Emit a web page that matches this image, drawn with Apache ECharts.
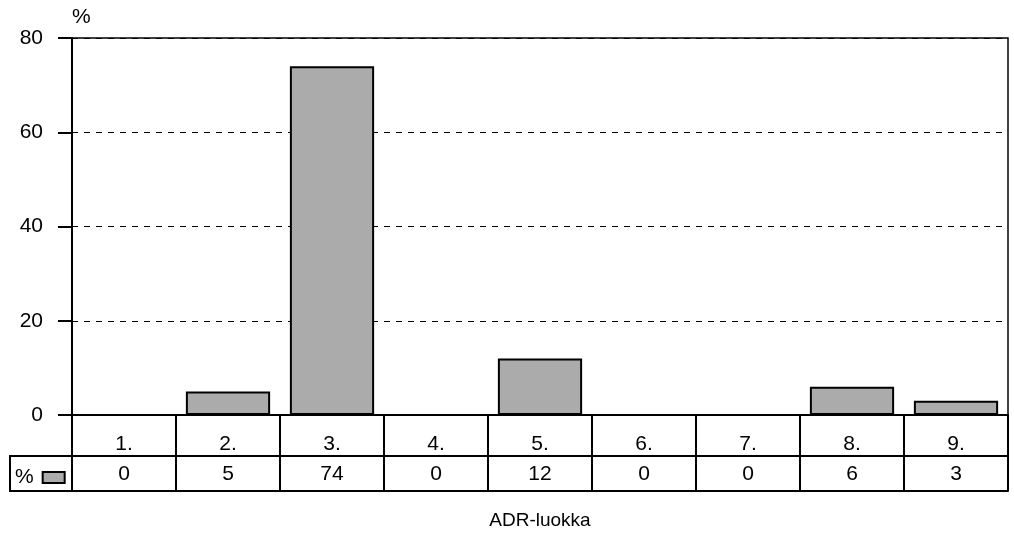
<!DOCTYPE html>
<html>
<head>
<meta charset="utf-8">
<script src="https://cdn.jsdelivr.net/npm/echarts@6/dist/echarts.min.js"></script>
<style>html,body{margin:0;padding:0;background:#fff}#c{width:1014px;height:536px}</style>
</head>
<body>
<div id="c"></div>
<script>
const categories = ['1.', '2.', '3.', '4.', '5.', '6.', '7.', '8.', '9.'];
const values = [0, 5, 74, 0, 12, 0, 0, 6, 3];
const seriesName = '%';
const xAxisTitle = 'ADR-luokka';
const yAxisTitle = '%';

const FONT = '"Liberation Sans", Arial, sans-serif';
const chart = echarts.init(document.getElementById('c'));
const black = '#000';
chart.setOption({
  backgroundColor: '#fff',
  animation: false,
  textStyle: { fontFamily: FONT },
  grid: { left: 72, right: 6, top: 38, bottom: 121, show: true, borderColor: black, borderWidth: 1.5, containLabel: false },
  legend: {
    data: [{ name: seriesName, icon: 'rect' }], left: 10, top: 462, align: 'right', itemWidth: 22, itemHeight: 11, itemGap: 4,
    textStyle: { fontSize: 21, color: black, fontFamily: FONT, padding: [0, 4, 0, 0] },
    selectedMode: false
  },
  graphic: [{
    type: 'rect', shape: { x: 10, y: 456, width: 62, height: 35 },
    style: { fill: 'none', stroke: black, lineWidth: 2 }, silent: true
  }],
  xAxis: [
    {
      type: 'category', data: categories, position: 'bottom',
      axisLine: { lineStyle: { color: black, width: 2 } },
      axisTick: { show: true, length: 76, lineStyle: { color: black, width: 2 } },
      axisLabel: { margin: 19, fontSize: 21, color: black, fontFamily: FONT }
    },
    {
      type: 'category', data: categories, position: 'bottom', offset: 41,
      axisLine: { lineStyle: { color: black, width: 2 } },
      axisTick: { show: false },
      axisLabel: { margin: 8, fontSize: 21, color: black, fontFamily: FONT, formatter: (v, i) => String(values[i]) }
    },
    {
      type: 'category', data: categories, position: 'bottom', offset: 76,
      axisLine: { lineStyle: { color: black, width: 2 } },
      axisTick: { show: false }, axisLabel: { show: false },
      name: xAxisTitle, nameLocation: 'middle', nameGap: 20,
      nameTextStyle: { fontSize: 19, color: black, fontFamily: FONT }
    }
  ],
  yAxis: {
    type: 'value', min: 0, max: 80, interval: 20,
    name: yAxisTitle, nameLocation: 'end', nameGap: 10,
    nameTextStyle: { fontSize: 21, color: black, align: 'left', fontFamily: FONT },
    axisLine: { show: true, lineStyle: { color: black, width: 2 } },
    axisTick: { show: true, length: 14, lineStyle: { color: black, width: 2 } },
    axisLabel: { margin: 29, fontSize: 21, color: black, fontFamily: FONT },
    splitLine: { show: true, lineStyle: { color: black, type: [6, 6], width: 1 } }
  },
  series: [{
    name: seriesName, type: 'bar', data: values, xAxisIndex: 0,
    barCategoryGap: '19%',
    itemStyle: { color: '#ababab', borderColor: black, borderWidth: 2 }
  }]
});
</script>
</body>
</html>
